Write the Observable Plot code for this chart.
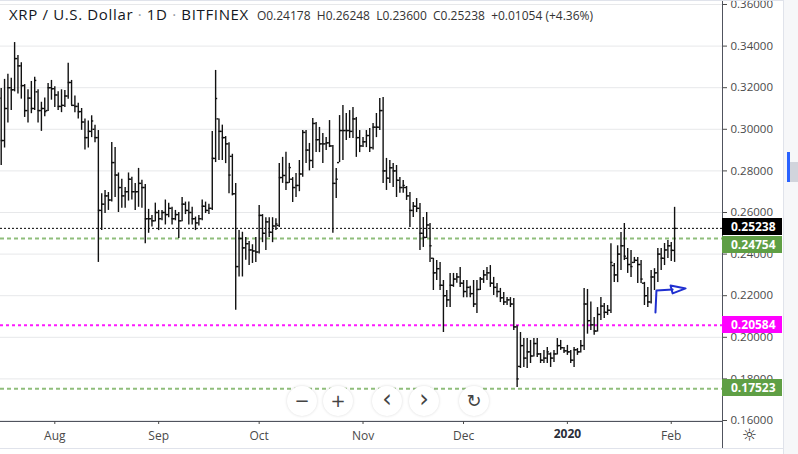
<!DOCTYPE html>
<html><head><meta charset="utf-8">
<script src="https://cdn.jsdelivr.net/npm/d3@7"></script>
<script src="https://cdn.jsdelivr.net/npm/@observablehq/plot@0.6"></script>
<style>
html,body{margin:0;padding:0;background:#fff;}
#wrap{position:relative;width:798px;height:454px;overflow:hidden;font-family:"Open Sans",sans-serif;background:#fff;}
#wrap svg{position:absolute;left:0;top:0;}
.ov{position:absolute;}
#hdr{left:9px;top:4px;white-space:nowrap;color:#131722;font-size:15px;letter-spacing:0.65px;}
#hdr .sep{color:#9598a1;}
#hdr .ohlc{font-size:12px;letter-spacing:0;margin-left:8px;color:#333;}
.plab{position:absolute;left:722px;width:60px;height:17px;line-height:17px;color:#fff;font-weight:bold;font-size:12px;padding-left:9px;box-sizing:border-box;}
.btn{position:absolute;width:30px;height:30px;border-radius:50%;background:#fff;box-shadow:0 0 3px rgba(0,0,0,0.15);text-align:center;line-height:29px;color:#444;font-size:18px;font-family:"DejaVu Sans",sans-serif;}
</style></head><body><div id="wrap"></div>
<script>
// ---- data: XRP/USD daily OHLC, Bitfinex, from 2019-07-16 to 2020-02-02 ----
const firstDay = "2019-07-16";
const open = [
0.3150,0.2946,0.3100,0.3200,0.3190,0.3340,0.3305,0.3210,0.3090,0.3150,
0.3100,0.3180,0.3090,0.3100,0.3090,0.3200,0.3195,0.3165,0.3110,0.3115,
0.3160,0.3225,0.3115,0.3110,0.3085,0.3035,0.2960,0.2990,0.3000,0.2960,
0.2610,0.2640,0.2680,0.2660,0.2840,0.2780,0.2720,0.2680,0.2700,0.2760,
0.2700,0.2700,0.2740,0.2720,0.2570,0.2570,0.2560,0.2600,0.2570,0.2600,
0.2590,0.2620,0.2570,0.2590,0.2560,0.2640,0.2610,0.2600,0.2570,0.2550,
0.2570,0.2630,0.2610,0.2620,0.2860,0.3050,0.2990,0.2960,0.2930,0.2870,
0.2690,0.2340,0.2475,0.2430,0.2450,0.2420,0.2415,0.2410,0.2586,0.2500,
0.2555,0.2505,0.2535,0.2538,0.2768,0.2778,0.2744,0.2760,0.2720,0.2730,
0.2785,0.2985,0.2900,0.2850,0.3028,0.2950,0.2930,0.2930,0.2935,0.2920,
0.2740,0.2840,0.2994,0.2994,0.2994,0.2990,0.3050,0.2960,0.2920,0.2940,
0.2970,0.2912,0.3010,0.3010,0.3090,0.2800,0.2765,0.2815,0.2800,0.2755,
0.2720,0.2720,0.2680,0.2610,0.2630,0.2620,0.2500,0.2480,0.2540,0.2380,
0.2310,0.2330,0.2250,0.2200,0.2180,0.2250,0.2280,0.2290,0.2260,0.2220,
0.2240,0.2210,0.2160,0.2230,0.2280,0.2300,0.2310,0.2260,0.2240,0.2220,
0.2190,0.2170,0.2180,0.2160,0.2050,0.1860,0.1960,0.1900,0.1930,0.1910,
0.1970,0.1920,0.1890,0.1900,0.1920,0.1900,0.1920,0.1960,0.1950,0.1935,
0.1930,0.1890,0.1940,0.1930,0.1960,0.2160,0.2080,0.2060,0.2030,0.2110,
0.2150,0.2120,0.2130,0.2345,0.2300,0.2400,0.2440,0.2380,0.2350,0.2360,
0.2370,0.2350,0.2260,0.2200,0.2170,0.2290,0.2310,0.2400,0.2380,0.2420,
0.2440,0.24178];
const high = [
0.3196,0.3240,0.3265,0.3245,0.3417,0.3355,0.3320,0.3215,0.3190,0.3230,
0.3250,0.3190,0.3130,0.3150,0.3220,0.3235,0.3205,0.3180,0.3190,0.3187,
0.3318,0.3235,0.3160,0.3125,0.3100,0.3050,0.3040,0.3065,0.3020,0.2994,
0.2690,0.2706,0.2696,0.2937,0.2912,0.2790,0.2760,0.2720,0.2790,0.2770,
0.2740,0.2812,0.2755,0.2735,0.2615,0.2585,0.2645,0.2610,0.2610,0.2660,
0.2645,0.2625,0.2610,0.2600,0.2672,0.2650,0.2650,0.2625,0.2578,0.2585,
0.2660,0.2650,0.2640,0.2990,0.3283,0.3050,0.3020,0.2965,0.2935,0.2880,
0.2740,0.2513,0.2505,0.2480,0.2460,0.2445,0.2480,0.2634,0.2590,0.2575,
0.2575,0.2575,0.2570,0.2836,0.2865,0.2890,0.2836,0.2768,0.2788,0.2850,
0.2994,0.2994,0.2932,0.3052,0.3033,0.3009,0.2980,0.2960,0.3042,0.2922,
0.2812,0.3066,0.3114,0.3076,0.3090,0.3105,0.3057,0.2994,0.2960,0.2994,
0.3004,0.3028,0.3076,0.3148,0.3153,0.2860,0.2850,0.2836,0.2826,0.2768,
0.2754,0.2725,0.2696,0.2648,0.2667,0.2643,0.2576,0.2600,0.2547,0.2380,
0.2369,0.2360,0.2273,0.2225,0.2307,0.2307,0.2307,0.2336,0.2273,0.2273,
0.2245,0.2273,0.2273,0.2288,0.2321,0.2336,0.2345,0.2288,0.2259,0.2235,
0.2215,0.2191,0.2191,0.2186,0.2055,0.2023,0.1994,0.1994,0.1985,0.1994,
0.1994,0.1922,0.1937,0.1951,0.1925,0.1937,0.1994,0.1985,0.1951,0.1961,
0.1937,0.1951,0.1946,0.1985,0.2235,0.2230,0.2170,0.2095,0.2143,0.2191,
0.2162,0.2153,0.2450,0.2355,0.2440,0.2504,0.2547,0.2427,0.2417,0.2384,
0.2384,0.2369,0.2264,0.2240,0.2321,0.2330,0.2427,0.2427,0.2451,0.2465,
0.2456,0.26248];
const low = [
0.2826,0.2910,0.3030,0.3090,0.3180,0.3170,0.3145,0.3057,0.3030,0.3075,
0.3090,0.3030,0.2990,0.3060,0.3085,0.3140,0.3105,0.3090,0.3080,0.3105,
0.3145,0.3115,0.3080,0.3050,0.2995,0.2900,0.2910,0.2960,0.2935,0.2360,
0.2513,0.2595,0.2610,0.2650,0.2672,0.2600,0.2620,0.2620,0.2655,0.2660,
0.2610,0.2625,0.2620,0.2450,0.2500,0.2530,0.2555,0.2513,0.2560,0.2540,
0.2575,0.2540,0.2560,0.2475,0.2555,0.2590,0.2540,0.2540,0.2513,0.2535,
0.2560,0.2595,0.2590,0.2610,0.2840,0.2850,0.2850,0.2835,0.2690,0.2680,
0.2130,0.2290,0.2290,0.2370,0.2345,0.2355,0.2360,0.2400,0.2455,0.2417,
0.2480,0.2455,0.2513,0.2528,0.2740,0.2706,0.2740,0.2648,0.2672,0.2700,
0.2770,0.2836,0.2800,0.2812,0.2888,0.2888,0.2836,0.2898,0.2912,0.2500,
0.2667,0.2840,0.2850,0.2946,0.2956,0.2956,0.2865,0.2888,0.2912,0.2912,
0.2888,0.2900,0.2960,0.2994,0.2740,0.2706,0.2740,0.2720,0.2672,0.2692,
0.2692,0.2658,0.2528,0.2576,0.2600,0.2417,0.2432,0.2475,0.2360,0.2225,
0.2273,0.2225,0.2023,0.2143,0.2143,0.2240,0.2260,0.2240,0.2190,0.2190,
0.2190,0.2143,0.2115,0.2225,0.2259,0.2273,0.2240,0.2201,0.2190,0.2167,
0.2153,0.2153,0.2143,0.2033,0.1759,0.1850,0.1855,0.1850,0.1874,0.1905,
0.1903,0.1874,0.1874,0.1874,0.1855,0.1879,0.1915,0.1937,0.1922,0.1913,
0.1874,0.1855,0.1913,0.1925,0.1937,0.2015,0.2033,0.2010,0.2025,0.2081,
0.2090,0.2105,0.2115,0.2263,0.2263,0.2321,0.2369,0.2307,0.2288,0.2355,
0.2259,0.2259,0.2153,0.2143,0.2160,0.2225,0.2263,0.2321,0.2345,0.2379,
0.2365,0.23600];
const close = [
0.2946,0.3100,0.3200,0.3190,0.3340,0.3305,0.3210,0.3090,0.3150,0.3100,
0.3235,0.3090,0.3100,0.3085,0.3200,0.3195,0.3165,0.3110,0.3115,0.3160,
0.3225,0.3115,0.3110,0.3085,0.3035,0.2960,0.2990,0.3040,0.2960,0.2610,
0.2640,0.2680,0.2660,0.2840,0.2780,0.2720,0.2680,0.2700,0.2760,0.2700,
0.2700,0.2740,0.2720,0.2570,0.2570,0.2560,0.2600,0.2570,0.2600,0.2590,
0.2620,0.2570,0.2590,0.2560,0.2640,0.2610,0.2600,0.2570,0.2550,0.2570,
0.2630,0.2610,0.2620,0.2860,0.3148,0.2990,0.2960,0.2930,0.2780,0.2690,
0.2340,0.2475,0.2430,0.2450,0.2420,0.2415,0.2410,0.2586,0.2500,0.2555,
0.2505,0.2535,0.2545,0.2768,0.2778,0.2744,0.2816,0.2720,0.2730,0.2785,
0.2985,0.2900,0.2850,0.3028,0.2950,0.2930,0.2930,0.2935,0.2920,0.2740,
0.2760,0.2994,0.2994,0.2994,0.2990,0.3050,0.2960,0.2920,0.2940,0.2970,
0.2912,0.3010,0.3010,0.3090,0.2800,0.2765,0.2815,0.2800,0.2755,0.2720,
0.2730,0.2680,0.2610,0.2630,0.2620,0.2500,0.2480,0.2540,0.2440,0.2310,
0.2330,0.2250,0.2200,0.2180,0.2250,0.2280,0.2290,0.2260,0.2220,0.2240,
0.2210,0.2160,0.2230,0.2280,0.2300,0.2310,0.2260,0.2240,0.2220,0.2190,
0.2170,0.2180,0.2160,0.2050,0.1800,0.1960,0.1900,0.1930,0.1910,0.1970,
0.1920,0.1890,0.1900,0.1930,0.1900,0.1920,0.1960,0.1950,0.1935,0.1930,
0.1890,0.1940,0.1930,0.1960,0.2160,0.2080,0.2060,0.2030,0.2110,0.2150,
0.2120,0.2130,0.2360,0.2300,0.2400,0.2440,0.2390,0.2350,0.2340,0.2370,
0.2350,0.2280,0.2200,0.2170,0.2290,0.2310,0.2400,0.2380,0.2420,0.2440,
0.2418,0.25238];

// horizontal price levels
const levelValues = [0.25238, 0.24754, 0.20584, 0.17523];
const levelLabels = ["0.25238", "0.24754", "0.20584", "0.17523"];
// y axis ticks
const yTicks = [0.16, 0.18, 0.20, 0.22, 0.24, 0.26, 0.28, 0.30, 0.32, 0.34, 0.36];
// x axis ticks (month starts)
const monthTicks = ["2019-08-01", "2019-09-01", "2019-10-01", "2019-11-01", "2019-12-01", "2020-01-01", "2020-02-01"];
const monthLabels = ["Aug", "Sep", "Oct", "Nov", "Dec", "2020", "Feb"];
// hand-drawn blue arrow annotation (date, price)
const arrowShaft = [["2020-01-27T07:00", 0.2119], ["2020-01-27T14:00", 0.2225], ["2020-02-01T10:00", 0.2230]];
const arrowHead = [["2020-01-31T19:00", 0.2249], ["2020-02-05T07:00", 0.2235], ["2020-02-01T10:00", 0.2211], ["2020-01-31T19:00", 0.2249]];

// ---- build ----
const DAY = 864e5;
const t0 = Date.parse(firstDay + "T00:00Z");
const bars = open.map((o, i) => ({date: new Date(t0 + i * DAY), open: o, high: high[i], low: low[i], close: close[i]}));
const aug1 = Date.parse("2019-08-01T00:00Z");
const xDomain = [new Date(aug1 - 16.21 * DAY), new Date(aug1 + 199.3 * DAY)];
const yDomain = [0.15952, 0.36192];
const ticksX = monthTicks.map(s => new Date(s + "T00:00Z"));
const shaft = arrowShaft.map(([d, v]) => ({date: new Date(d + "Z"), v}));
const head = arrowHead.map(([d, v]) => ({date: new Date(d + "Z"), v}));
const levelStyle = [
  {stroke: "#000", dash: "2,2", w: 1, op: 1},
  {stroke: "#6aa84f", dash: "4,3", w: 2, op: 0.75},
  {stroke: "#ff00ff", dash: "3,3", w: 2, op: 0.9},
  {stroke: "#6aa84f", dash: "4,3", w: 2, op: 0.75}
];
const tickLen = 0.62 * DAY;

const chart = Plot.plot({
  width: 798, height: 454,
  marginLeft: 0, marginRight: 76, marginTop: 0, marginBottom: 33,
  x: {type: "utc", domain: xDomain, axis: null},
  y: {domain: yDomain, axis: null},
  style: {fontFamily: "Open Sans", color: "#4a4a4a", background: "transparent", overflow: "visible"},
  marks: [
    Plot.gridY(yTicks, {stroke: "#e7e8ea", strokeOpacity: 1}),
    ...levelValues.map((v, i) => Plot.ruleY([v], {stroke: levelStyle[i].stroke, strokeDasharray: levelStyle[i].dash, strokeWidth: levelStyle[i].w, strokeOpacity: levelStyle[i].op})),
    Plot.ruleX(bars, {x: "date", y1: "low", y2: "high", stroke: "#111", strokeWidth: 1.4}),
    Plot.ruleY(bars, {y: "open", x1: d => new Date(+d.date - tickLen), x2: "date", stroke: "#111", strokeWidth: 1.4}),
    Plot.ruleY(bars, {y: "close", x1: "date", x2: d => new Date(+d.date + tickLen), stroke: "#111", strokeWidth: 1.4}),
    Plot.line(shaft, {x: "date", y: "v", stroke: "#1f2fd0", strokeWidth: 2}),
    Plot.line(head, {x: "date", y: "v", stroke: "#1f2fd0", strokeWidth: 2}),
    Plot.ruleY([yDomain[0]], {stroke: "#50535e", strokeWidth: 1}),
    Plot.ruleX([xDomain[1]], {stroke: "#50535e", strokeWidth: 1}),
    Plot.axisY(yTicks, {anchor: "right", tickFormat: d3.format(".5f"), tickSize: 4, tickPadding: 4, fontSize: 11.5}),
    Plot.axisX(ticksX, {tickSize: 3, tickPadding: 7, fontSize: 12, tickFormat: (d, i) => monthLabels[i] === "2020" ? "" : monthLabels[i]}),
    Plot.text(ticksX.filter((d, i) => monthLabels[i] === "2020"), {x: d => d, text: () => "2020", frameAnchor: "bottom", dy: 16, fontSize: 12, fontWeight: "bold", fill: "#2a2e39"})
  ]
});

const wrap = document.getElementById("wrap");
wrap.appendChild(chart);
const ys = chart.scale("y");

function ov(html, css) {
  const d = document.createElement("div");
  d.className = "ov";
  d.style.cssText = css;
  d.innerHTML = html;
  wrap.appendChild(d);
  return d;
}
// extension of right axis below the frame, borders
ov("", "left:722px;top:421px;width:1px;height:27px;background:#50535e;");
ov("", "left:0;top:0;width:798px;height:1px;background:#e0e3eb;");
ov("", "left:0;top:448px;width:783px;height:1px;background:#e0e3eb;");
ov("", "left:783px;top:0;width:15px;height:454px;background:#f6f7f9;border-left:1px solid #e0e3eb;");
ov("", "left:787px;top:152px;width:3px;height:30px;background:#2962ff;");
ov("", "left:790px;top:162px;width:8px;height:20px;background:#d1d4dc;");

// price labels on the axis
const labelBg = ["#000", "#5f9f45", "#ff00ff", "#5f9f45"];
const labelShift = [-1.5, 6.5, -0.5, -0.5];
levelValues.forEach((v, i) => {
  const c = ys.apply(v) + labelShift[i];
  const d = document.createElement("div");
  d.className = "plab";
  d.style.top = (c - 8.5) + "px";
  d.style.background = labelBg[i];
  d.textContent = levelLabels[i];
  wrap.appendChild(d);
});

// header
const hdr = ov('XRP / U.S. Dollar <span class="sep">·</span> 1D <span class="sep">·</span> BITFINEX<span class="ohlc">O0.24178&nbsp; H0.26248&nbsp; L0.23600&nbsp; C0.25238&nbsp; +0.01054 (+4.36%)</span>', "");
hdr.id = "hdr";

// navigation buttons
const btns = [["\u2212", 302, 18], ["+", 338, 18], ["\u2039", 387, 24], ["\u203A", 424, 24], ["\u21BB", 474, 18]];
btns.forEach(([g, cx, fs]) => {
  const b = document.createElement("div");
  b.className = "btn";
  b.style.left = (cx - 15) + "px";
  b.style.top = (401 - 15) + "px";
  b.style.fontSize = fs + "px";
  b.style.lineHeight = (fs > 20 ? 27 : 29) + "px";
  b.textContent = g;
  wrap.appendChild(b);
});
ov("\u263C", "left:742px;top:425px;font-size:17px;color:#333;font-family:'DejaVu Sans',sans-serif;");
</script></body></html>
